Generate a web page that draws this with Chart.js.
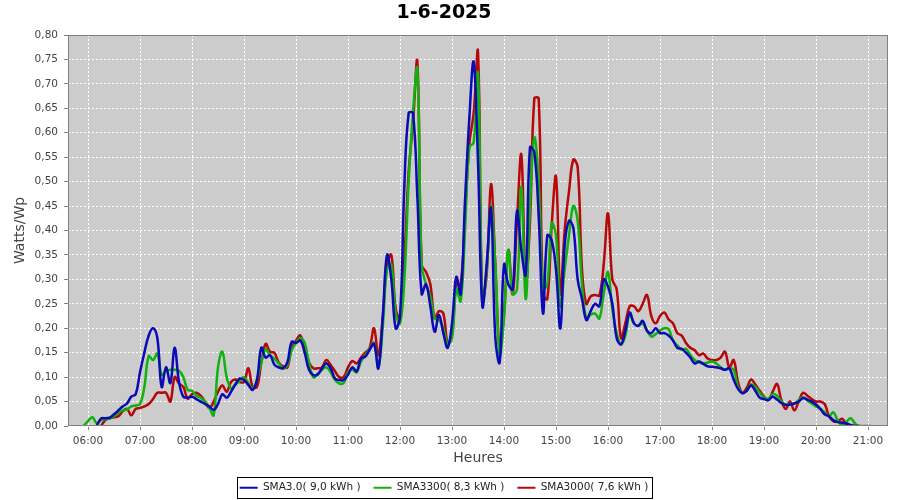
<!DOCTYPE html>
<html>
<head>
<meta charset="utf-8">
<script src="https://cdn.jsdelivr.net/npm/chart.js@4.4.1/dist/chart.umd.min.js"></script>
<style>html,body{margin:0;padding:0;background:#fff}canvas{display:block}</style>
</head>
<body>
<canvas id="c" width="900" height="500"></canvas>
<script>
const chartTitle = "1-6-2025";
const yTitle = "Watts/Wp";
const xTitle = "Heures";
const seriesNames = ["SMA3.0( 9,0 kWh )", "SMA3300( 8,3 kWh )", "SMA3000( 7,6 kWh )"];
const seriesColors = ["rgb(10,10,182)", "rgb(16,178,16)", "rgb(182,8,8)"];
const xTickHours = [6,7,8,9,10,11,12,13,14,15,16,17,18,19,20,21];
const yTicks = [0,0.05,0.10,0.15,0.20,0.25,0.30,0.35,0.40,0.45,0.50,0.55,0.60,0.65,0.70,0.75,0.80];

const times = [
"05:55",
"06:00","06:05","06:10","06:15","06:20","06:25","06:30","06:35","06:40","06:45","06:50","06:55",
"07:00","07:05","07:10","07:15","07:20","07:25","07:30","07:35","07:40","07:45","07:50","07:55",
"08:00","08:05","08:10","08:15","08:20","08:25","08:30","08:35","08:40","08:45","08:50","08:55",
"09:00","09:05","09:10","09:15","09:20","09:25","09:30","09:35","09:40","09:45","09:50","09:55",
"10:00","10:05","10:10","10:15","10:20","10:25","10:30","10:35","10:40","10:45","10:50","10:55",
"11:00","11:05","11:10","11:15","11:20","11:25","11:30","11:35","11:40","11:45","11:50","11:55",
"12:00","12:05","12:10","12:15","12:20","12:25","12:30","12:35","12:40","12:45","12:50","12:55",
"13:00","13:05","13:10","13:15","13:20","13:25","13:30","13:35","13:40","13:45","13:50","13:55",
"14:00","14:05","14:10","14:15","14:20","14:25","14:30","14:35","14:40","14:45","14:50","14:55",
"15:00","15:05","15:10","15:15","15:20","15:25","15:30","15:35","15:40","15:45","15:50","15:55",
"16:00","16:05","16:10","16:15","16:20","16:25","16:30","16:35","16:40","16:45","16:50","16:55",
"17:00","17:05","17:10","17:15","17:20","17:25","17:30","17:35","17:40","17:45","17:50","17:55",
"18:00","18:05","18:10","18:15","18:20","18:25","18:30","18:35","18:40","18:45","18:50","18:55",
"19:00","19:05","19:10","19:15","19:20","19:25","19:30","19:35","19:40","19:45","19:50","19:55",
"20:00","20:05","20:10","20:15","20:20","20:25","20:30","20:35","20:40","20:45","20:50","20:55",
"21:00","21:05"
];

const sma30 = [
null,
null,null,0,0.015,0.016,0.017,0.024,0.032,0.04,0.046,0.06,0.065,
0.11,0.15,0.185,0.20,0.18,0.08,0.12,0.088,0.16,0.09,0.06,0.058,
0.06,0.055,0.05,0.045,0.04,0.033,0.045,0.065,0.058,0.07,0.085,0.097,
0.094,0.084,0.074,0.095,0.16,0.14,0.145,0.126,0.12,0.118,0.13,0.172,
0.17,0.175,0.15,0.115,0.104,0.106,0.118,0.128,0.118,0.097,0.094,0.094,
0.105,0.12,0.112,0.138,0.142,0.156,0.168,0.118,0.22,0.35,0.30,0.20,
0.224,0.49,0.64,0.64,0.47,0.27,0.29,0.245,0.193,0.227,0.19,0.16,
0.21,0.305,0.27,0.46,0.63,0.745,0.54,0.245,0.33,0.445,0.18,0.13,
0.33,0.29,0.28,0.44,0.36,0.31,0.57,0.56,0.43,0.23,0.39,0.38,
0.32,0.2,0.37,0.42,0.405,0.30,0.26,0.217,0.235,0.25,0.245,0.30,
0.285,0.25,0.18,0.167,0.195,0.232,0.21,0.205,0.215,0.195,0.19,0.2,
0.19,0.19,0.185,0.175,0.16,0.158,0.15,0.14,0.128,0.132,0.127,0.122,
0.121,0.12,0.118,0.115,0.118,0.095,0.076,0.067,0.072,0.083,0.072,0.058,
0.055,0.053,0.06,0.054,0.047,0.043,0.044,0.046,0.05,0.057,0.054,0.05,
0.044,0.035,0.024,0.02,0.012,0.008,0.007,0.005,0.002,0,0,null,
null,null
];

const sma3300 = [
0,
0.01,0.018,0.006,0.012,0.014,0.015,0.02,0.027,0.032,0.034,0.04,0.042,
0.045,0.08,0.143,0.135,0.148,0.105,0.112,0.115,0.115,0.113,0.10,0.074,
0.072,0.062,0.058,0.05,0.037,0.022,0.12,0.152,0.10,0.077,0.085,0.092,
0.10,0.088,0.076,0.095,0.13,0.157,0.145,0.138,0.128,0.118,0.125,0.155,
0.17,0.18,0.17,0.13,0.10,0.105,0.115,0.12,0.11,0.094,0.087,0.088,
0.11,0.115,0.11,0.132,0.145,0.158,0.17,0.12,0.20,0.32,0.33,0.23,
0.21,0.30,0.50,0.64,0.73,0.33,0.29,0.265,0.22,0.217,0.2,0.168,
0.18,0.28,0.255,0.40,0.57,0.58,0.72,0.25,0.32,0.45,0.33,0.145,
0.22,0.36,0.27,0.28,0.49,0.26,0.45,0.59,0.50,0.28,0.29,0.415,
0.39,0.245,0.32,0.39,0.45,0.42,0.29,0.22,0.228,0.23,0.22,0.27,
0.315,0.24,0.19,0.167,0.185,0.23,0.21,0.205,0.21,0.195,0.183,0.188,
0.195,0.2,0.198,0.175,0.165,0.156,0.158,0.145,0.135,0.13,0.128,0.13,
0.132,0.128,0.12,0.115,0.118,0.115,0.08,0.068,0.072,0.085,0.08,0.068,
0.058,0.056,0.065,0.062,0.05,0.044,0.045,0.046,0.053,0.059,0.052,0.046,
0.04,0.035,0.028,0.02,0.028,0.012,0.002,0.008,0.016,0.005,0,0,
0,0
];

const sma3000 = [
null,
null,null,null,0,0.012,0.016,0.018,0.02,0.03,0.035,0.022,0.035,
0.037,0.04,0.045,0.055,0.068,0.068,0.068,0.05,0.1,0.087,0.08,0.056,
0.065,0.068,0.062,0.05,0.037,0.05,0.07,0.083,0.07,0.09,0.095,0.09,
0.09,0.118,0.08,0.08,0.13,0.168,0.152,0.15,0.13,0.122,0.12,0.16,
0.175,0.185,0.16,0.13,0.118,0.118,0.12,0.135,0.125,0.112,0.1,0.1,
0.12,0.133,0.128,0.14,0.15,0.16,0.20,0.145,0.22,0.33,0.35,0.24,
0.22,0.34,0.52,0.62,0.745,0.33,0.315,0.29,0.22,0.235,0.23,0.17,
0.186,0.29,0.29,0.43,0.578,0.64,0.765,0.26,0.31,0.495,0.33,0.16,
0.23,0.36,0.27,0.42,0.555,0.29,0.42,0.67,0.67,0.27,0.26,0.41,
0.51,0.27,0.40,0.48,0.545,0.53,0.32,0.25,0.265,0.268,0.267,0.33,
0.435,0.30,0.28,0.18,0.21,0.245,0.245,0.235,0.25,0.268,0.225,0.21,
0.225,0.232,0.218,0.21,0.19,0.185,0.17,0.16,0.155,0.145,0.148,0.138,
0.135,0.135,0.14,0.152,0.12,0.135,0.09,0.068,0.078,0.095,0.085,0.072,
0.06,0.053,0.07,0.086,0.053,0.035,0.05,0.032,0.05,0.068,0.062,0.055,
0.05,0.05,0.045,0.02,0.01,0.009,0.015,0.005,0,0,null,null,
null,null
];

const toHours = s => parseInt(s.slice(0, 2), 10) + parseInt(s.slice(3), 10) / 60;
const toPoints = arr => times.map((t, i) => ({ x: toHours(t), y: arr[i] }));

const FONT = "'DejaVu Sans', Verdana, sans-serif";

const bgPlugin = {
  id: 'bg',
  beforeDraw(chart) {
    const { ctx, chartArea: a } = chart;
    ctx.save();
    ctx.fillStyle = '#ffffff';
    ctx.fillRect(0, 0, chart.width, chart.height);
    ctx.fillStyle = '#cccccc';
    ctx.fillRect(a.left, a.top, a.right - a.left, a.bottom - a.top);
    ctx.restore();
  },
  afterLayout(chart) {
    if (chart.legend) {
      chart.legend.top += 3;
      chart.legend.bottom += 3;
    }
  },
  afterDraw(chart) {
    const { ctx, chartArea: a } = chart;
    ctx.save();
    ctx.strokeStyle = '#808080';
    ctx.lineWidth = 1;
    ctx.strokeRect(Math.round(a.left) + 0.5, Math.round(a.top) + 0.5,
      Math.round(a.right - a.left) - 1, Math.round(a.bottom - a.top) - 1);
    const lg = chart.legend;
    if (lg && lg.legendHitBoxes && lg.legendHitBoxes.length) {
      const hb = lg.legendHitBoxes;
      const l = Math.min(...hb.map(h => h.left)) - 3;
      const r = Math.max(...hb.map(h => h.left + h.width)) + 3;
      const cy = lg.top + lg.options.labels.padding + 5.25;
      ctx.strokeStyle = '#000';
      ctx.strokeRect(Math.round(l) + 0.5, Math.round(cy - 11) + 0.5, Math.round(r - l), 21);
    }
    ctx.restore();
  }
};

const datasets = [sma30, sma3300, sma3000].map((arr, i) => ({
  label: seriesNames[i],
  data: toPoints(arr),
  borderColor: seriesColors[i],
  backgroundColor: seriesColors[i],
  borderWidth: 2.5,
  pointRadius: 1,
  pointHoverRadius: 1,
  pointBorderWidth: 0,
  pointStyle: 'circle',
  tension: 0.4,
  spanGaps: false,
  fill: false
}));

new Chart(document.getElementById('c'), {
  type: 'line',
  data: { datasets },
  plugins: [bgPlugin],
  options: {
    responsive: false,
    animation: false,
    devicePixelRatio: 1,
    layout: { padding: { left: 0, right: 12, top: 0, bottom: 0 } },
    plugins: {
      title: {
        display: true,
        text: chartTitle,
        color: '#000',
        font: { family: FONT, size: 19, weight: 'bold' },
        padding: { top: 1.6, bottom: 10.6 }
      },
      legend: {
        display: true,
        position: 'bottom',
        labels: {
          color: '#222',
          font: { family: FONT, size: 10.5 },
          usePointStyle: true,
          pointStyle: 'line',
          pointStyleWidth: 18,
          padding: 13,
          generateLabels(chart) {
            return chart.data.datasets.map((d, i) => ({
              text: d.label,
              fillStyle: d.borderColor,
              strokeStyle: d.borderColor,
              lineWidth: 2,
              pointStyle: 'line',
              hidden: false,
              datasetIndex: i,
              fontColor: '#222'
            }));
          }
        }
      },
      tooltip: { enabled: false }
    },
    scales: {
      x: {
        type: 'linear',
        min: 6 - 20 / 52,
        max: 21 + 20 / 52,
        afterBuildTicks(scale) { scale.ticks = xTickHours.map(v => ({ value: v })); },
        afterFit(scale) { scale.height = 500 - 426 - scale.chart.legend.height; },
        ticks: {
          autoSkip: false,
          maxRotation: 0,
          padding: 5,
          color: '#444',
          font: { family: FONT, size: 10.5 },
          callback: v => String(v).padStart(2, '0') + ':00'
        },
        grid: { color: '#ffffff', lineWidth: 1, tickColor: '#808080', tickLength: 4, tickBorderDash: [] },
        border: { display: false, dash: [2, 2] },
        title: {
          display: true, text: xTitle, color: '#444',
          font: { family: FONT, size: 14 },
          padding: { top: 0, bottom: 0 }
        }
      },
      y: {
        type: 'linear',
        min: 0,
        max: 0.8,
        afterBuildTicks(scale) { scale.ticks = yTicks.map(v => ({ value: v })); },
        afterFit(scale) { scale.width = 68; },
        ticks: {
          padding: 6,
          color: '#444',
          font: { family: FONT, size: 10.5 },
          callback: v => Number(v).toFixed(2).replace('.', ',')
        },
        grid: { color: '#ffffff', lineWidth: 1, tickColor: '#808080', tickLength: 4, tickBorderDash: [] },
        border: { display: false, dash: [2, 2] },
        title: {
          display: true, text: yTitle, color: '#444',
          font: { family: FONT, size: 14 },
          padding: { top: 12, bottom: 0 }
        }
      }
    }
  }
});
</script>
</body>
</html>
